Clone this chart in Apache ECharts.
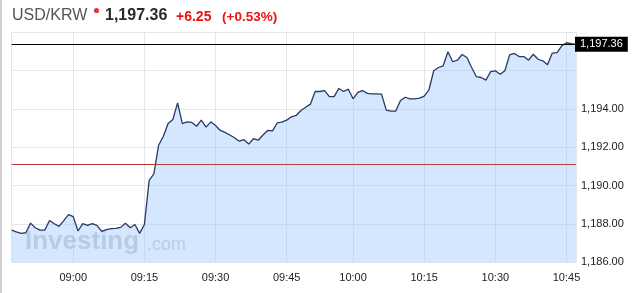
<!DOCTYPE html>
<html>
<head>
<meta charset="utf-8">
<script src="https://cdn.jsdelivr.net/npm/echarts@6/dist/echarts.min.js"></script>
<style>
html,body{margin:0;padding:0;background:#fff;}
#chart{width:633px;height:293px;}
</style>
</head>
<body>
<div id="chart"></div>
<script>
// ---- data ----
const firstMinute = '08:47';
const lastMinute = '10:47';
const missingMinutes = ['09:50'];
const tickLabels = ['09:00','09:15','09:30','09:45','10:00','10:15','10:30','10:45'];
const prices = [
  1187.68,1187.59,1187.51,1187.54,1188.04,1187.80,1187.68,1187.68,1188.18,1188.01,
  1187.87,1188.17,1188.48,1188.38,1187.63,1188.01,1187.92,1188.01,1187.92,1187.61,
  1187.70,1187.75,1187.77,1187.82,1188.03,1187.80,1187.97,1187.51,1187.97,1190.27,
  1190.61,1192.10,1192.57,1193.23,1193.44,1194.31,1193.23,1193.32,1193.29,1193.09,
  1193.41,1193.04,1193.32,1193.13,1192.87,1192.77,1192.63,1192.49,1192.31,1192.39,
  1192.16,1192.44,1192.36,1192.63,1192.87,1192.85,1193.26,1193.30,1193.41,1193.58,
  1193.65,1193.91,1194.08,1194.24,1194.90,1194.90,1194.95,1194.63,1194.63,1195.06,
  1194.90,1195.02,1194.52,1194.85,1194.95,1194.80,1194.78,1194.78,1194.76,1193.93,
  1193.88,1193.88,1194.43,1194.60,1194.52,1194.52,1194.55,1194.66,1194.99,1195.98,
  1196.15,1196.24,1196.97,1196.45,1196.53,1196.83,1196.67,1196.15,1195.67,1195.63,
  1195.49,1195.93,1195.98,1195.80,1195.98,1196.81,1196.88,1196.72,1196.72,1196.53,
  1196.84,1196.58,1196.50,1196.29,1196.90,1196.93,1197.28,1197.44,1197.39,1197.36
];
const lastPrice = 1197.36;
const prevClose = 1191.11;
const changeText = '+6.25';
const changePctText = '(+0.53%)';
const pairName = 'USD/KRW';
const yMin = 1186, yMax = 1198, yStep = 2;
const hiddenYLabels = [1196, 1198];

// ---- build categories ----
function toMin(s){const p=s.split(':');return (+p[0])*60+(+p[1]);}
function toStr(m){const h=Math.floor(m/60),mm=m%60;return (h<10?'0':'')+h+':'+(mm<10?'0':'')+mm;}
const times = [];
for (let m = toMin(firstMinute); m <= toMin(lastMinute); m++) {
  const s = toStr(m);
  if (missingMinutes.indexOf(s) === -1) times.push(s);
}
function fmt(v){
  const parts = v.toFixed(2).split('.');
  parts[0] = parts[0].replace(/\B(?=(\d{3})+(?!\d))/g, ',');
  return parts.join('.');
}

const chart = echarts.init(document.getElementById('chart'), null, {renderer:'canvas'});
const lastIdx = times.length - 1;
chart.setOption({
  animation:false,
  backgroundColor:'#fff',
  grid:{left:11.6, right:57, top:32, bottom:30.7, containLabel:false},
  xAxis:{
    type:'category', data:times, boundaryGap:false,
    axisLine:{show:false}, axisTick:{show:false},
    axisLabel:{
      interval:(i,v)=>tickLabels.indexOf(v)!==-1,
      color:'#222', fontSize:11, fontFamily:'Liberation Sans, Arial, sans-serif', margin:10
    },
    splitLine:{show:true, interval:(i,v)=>tickLabels.indexOf(v)!==-1 || i===0 || i===lastIdx,
      lineStyle:{color:'#e4e6ea', width:1}}
  },
  yAxis:{
    type:'value', position:'right', min:yMin, max:yMax, interval:yStep,
    axisLine:{show:false}, axisTick:{show:false},
    axisLabel:{
      formatter:v=>hiddenYLabels.indexOf(v)!==-1?'':fmt(v),
      color:'#222', fontSize:11, fontFamily:'Liberation Sans, Arial, sans-serif', margin:5
    },
    splitLine:{lineStyle:{color:'#e4e6ea', width:1}}
  },
  graphic:[
    {type:'rect', shape:{x:0,y:0,width:2,height:293}, style:{fill:'#cfcfcf'}, silent:true},
    {type:'text', left:12, top:8, style:{text:pairName, fill:'#555', font:'16px "Liberation Sans", Arial, sans-serif'}},
    {type:'circle', shape:{cx:96.5, cy:10.5, r:2.6}, style:{fill:'#e8343a'}},
    {type:'text', left:105, top:8, style:{text:fmt(lastPrice), fill:'#2a2a2a', font:'bold 16px "Liberation Sans", Arial, sans-serif'}},
    {type:'text', left:176, top:10, style:{text:changeText, fill:'#ee1111', font:'bold 14px "Liberation Sans", Arial, sans-serif'}},
    {type:'text', left:222, top:10, style:{text:changePctText, fill:'#ee1111', font:'bold 13.5px "Liberation Sans", Arial, sans-serif'}},
    {type:'text', left:25, top:229, z:1, style:{text:'Investing', fill:'rgba(80,90,110,0.28)', font:'bold 26px "Liberation Sans", Arial, sans-serif'}},
    {type:'text', left:147, top:236, z:1, style:{text:'.com', fill:'rgba(80,90,110,0.28)', font:'18px "Liberation Sans", Arial, sans-serif'}}
  ],
  series:[{
    type:'line', data:prices, showSymbol:false, z:3,
    lineStyle:{color:'#2b3768', width:1.3},
    areaStyle:{origin:'start', color:'rgba(150,195,250,0.4)', opacity:1},
    markLine:{
      silent:true, symbol:'none', animation:false,
      data:[
        {yAxis:prevClose, lineStyle:{color:'#b83a3a', width:1, type:'solid'}, label:{show:false}},
        {yAxis:lastPrice, lineStyle:{color:'#000', width:1, type:'solid'},
          label:{show:true, position:'end', distance:-1, formatter:()=>fmt(lastPrice),
            backgroundColor:'#000', color:'#fff', fontSize:11, padding:[2,5,2,5],
            fontFamily:'Liberation Sans, Arial, sans-serif'}}
      ]
    }
  }]
});
</script>
</body>
</html>
